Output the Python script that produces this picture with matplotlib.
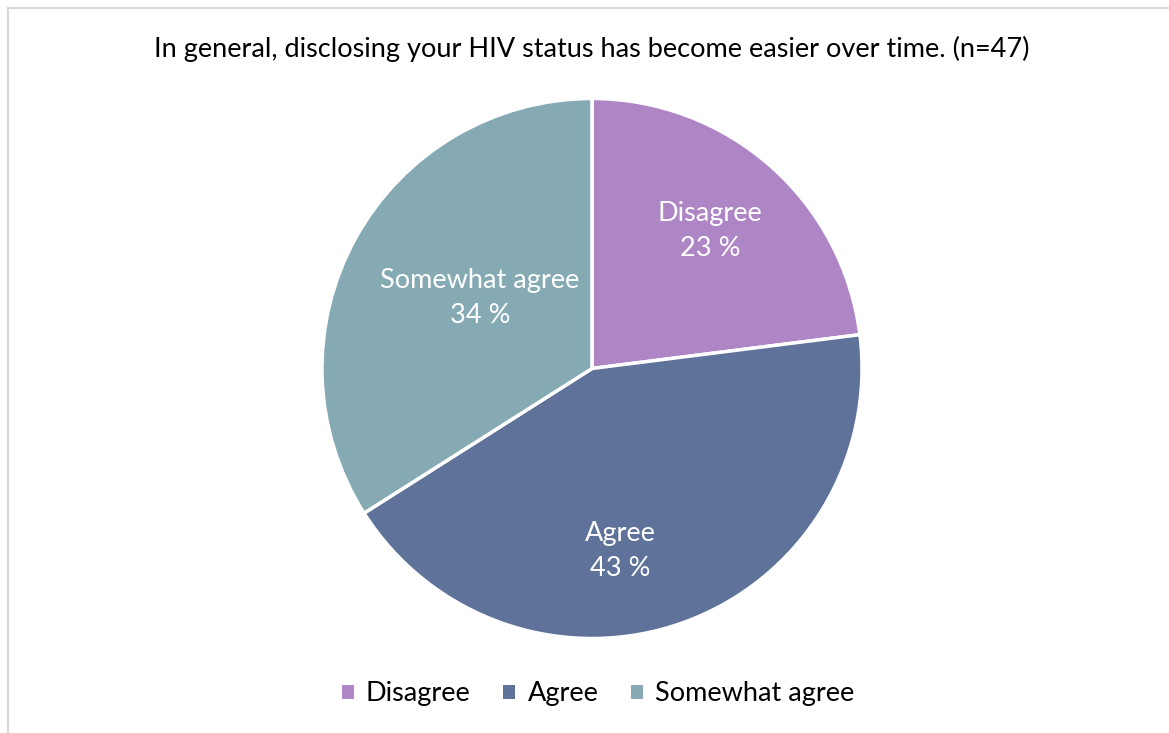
import matplotlib
matplotlib.use("Agg")
import matplotlib.pyplot as plt
from matplotlib.lines import Line2D
from matplotlib.patches import Patch

# Survey responses, percent of respondents (n=47)
categories = ["Disagree", "Agree", "Somewhat agree"]
percents = [23, 43, 34]
colors = ["#AE85C5", "#5F7299", "#86AAB4"]
title = "In general, disclosing your HIV status has become easier over time. (n=47)"

# where the in-slice labels sit, in pie-radius units
label_pos = [(0.437, 0.510), (0.104, -0.675), (-0.415, 0.262)]

plt.rcParams["font.family"] = ["Lato", "DejaVu Sans"]

W, H = 1169, 733
fig = plt.figure(figsize=(W / 100, H / 100), dpi=100)

# pie axes: centre (592, 368.5) px, radius 270 px
cx, cy, r = 592, 368.5, 270
ax = fig.add_axes([(cx - r) / W, (H - cy - r) / H, 2 * r / W, 2 * r / H])
ax.pie(percents, colors=colors, startangle=90, counterclock=False,
       wedgeprops=dict(edgecolor="white", linewidth=2.5), radius=1)
ax.set_xlim(-1, 1)
ax.set_ylim(-1, 1)
ax.set_aspect("equal")
ax.axis("off")

for name, pct, (x, y) in zip(categories, percents, label_pos):
    ax.text(x, y, f"{name}\n{pct} %", ha="center", va="center", color="white",
            fontsize=19.5, linespacing=1.5)

fig.text(cx / W, 1 - 49 / H, title, ha="center", va="center", fontsize=19.5, color="black")

handles = [Patch(facecolor=c, edgecolor="none") for c in colors]
fig.legend(handles, categories, loc="center", bbox_to_anchor=(598 / W, 1 - 694 / H),
           ncol=3, frameon=False, fontsize=19.5, handlelength=0.45, handleheight=0.45,
           handletextpad=0.45, columnspacing=1.2)

# chart border (top and left edges)
fig.add_artist(Line2D([8 / W, 8 / W], [0, 1 - 8 / H], color="#D9D9D9", linewidth=1.5))
fig.add_artist(Line2D([8 / W, 1], [1 - 8 / H, 1 - 8 / H], color="#D9D9D9", linewidth=1.5))

fig.savefig("out.png", dpi=100, facecolor="white")
